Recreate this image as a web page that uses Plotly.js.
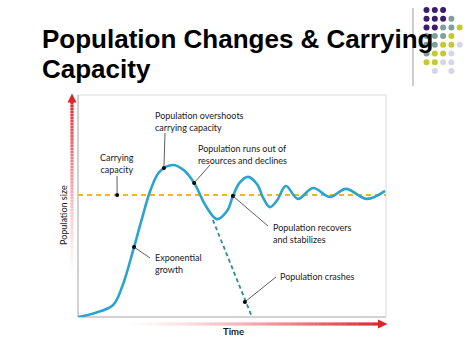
<!DOCTYPE html>
<html><head><meta charset="utf-8">
<script src="https://cdn.plot.ly/plotly-3.0.1.min.js"></script>
<style>html,body{margin:0;padding:0;background:#fff;}#chart{width:474px;height:355px;}</style>
</head><body><div id="chart"></div>
<script>
// ---- Data (time & population in relative units, 0-100) ----
const timePts = [0, 5.5, 11.4, 14.3, 18.2, 20.9, 23.5, 26.5, 30.8, 34.5, 37.7, 41.5, 45.1, 48.5, 50.3, 52.5, 55.2, 58.3, 60.0, 62.3, 64.6, 67.5, 71.4, 76.3, 81.8, 87.0, 93.8, 99.7];
const popPts  = [0, 1.8, 5.4, 13.5, 31.5, 45, 57, 65.5, 68.5, 66, 60.4, 50, 44.1, 48, 54.5, 60.5, 63.1, 59.5, 54, 49.5, 52.5, 59, 53.2, 58.1, 54.1, 57.7, 53.2, 56.8];
const carryingCapacity = 55;
const crashTime = [43.8, 56.5];
const crashPop  = [43.7, 0];
const calloutLabels = ["Carrying<br>capacity", "Population overshoots<br>carrying capacity", "Population runs out of<br>resources and declines", "Population recovers<br>and stabilizes", "Exponential<br>growth", "Population crashes"];
const calloutTime = [12.7, 27.9, 37.7, 50.3, 18.2, 54.2];
const calloutPop  = [55, 67.1, 60.4, 54.5, 31.5, 6.8];
const titleLines = ["Population Changes & Carrying", "Capacity"];
const xLabel = "Time";
const yLabel = "Population size";

// ---- geometry helpers (page pixel -> paper / data) ----
const L = 78, R = 386, T = 95, B = 317;
const pxX = x => (x - L) / (R - L);
const pxY = y => (B - y) / (B - T);
const dX = x => (x - L) / (R - L) * 100;
const dY = y => (B - y) / (B - T) * 100;

const shapes = [];
// frame
shapes.push({type:'rect', xref:'paper', yref:'paper', x0:0, x1:1, y0:0, y1:1, line:{color:'#dcdcdc', width:1}, layer:'below'});
shapes.push({type:'line', xref:'paper', yref:'paper', x0:0, x1:0, y0:0, y1:1, line:{color:'#c8c8c8', width:1.5}, layer:'below'});
shapes.push({type:'line', xref:'paper', yref:'paper', x0:0, x1:1, y0:0, y1:0, line:{color:'#c8c8c8', width:1.5}, layer:'below'});

// gradient arrows
function mix(t){
  const a=[255,255,255], b=[219,36,44];
  const c=a.map((v,i)=>Math.round(v+(b[i]-v)*t));
  return `rgb(${c[0]},${c[1]},${c[2]})`;
}
const N = 60;
// vertical (Population size)
for (let i=0;i<N;i++){
  const y0 = 285 - (285-101)*i/N, y1 = 285 - (285-101)*(i+1)/N;
  const t = Math.pow((i+0.5)/N, 1.5);
  shapes.push({type:'line', xref:'paper', yref:'paper', x0:pxX(72), x1:pxX(72), y0:pxY(y0), y1:pxY(y1+0.3), line:{color:mix(t), width:3.2}});
}
shapes.push({type:'path', xref:'paper', yref:'paper', path:`M${pxX(67.5)},${pxY(102.5)} L${pxX(72)},${pxY(93.5)} L${pxX(76.5)},${pxY(102.5)} Z`, fillcolor:mix(1), line:{width:0}});
// horizontal (Time)
for (let i=0;i<N;i++){
  const x0 = 120 + (379-120)*i/N, x1 = 120 + (379-120)*(i+1)/N;
  const t = Math.pow((i+0.5)/N, 1.4);
  shapes.push({type:'line', xref:'paper', yref:'paper', x0:pxX(x0), x1:pxX(x1+0.3), y0:pxY(324), y1:pxY(324), line:{color:mix(t), width:3.2}});
}
shapes.push({type:'path', xref:'paper', yref:'paper', path:`M${pxX(378)},${pxY(319.5)} L${pxX(387.5)},${pxY(324)} L${pxX(378)},${pxY(328.5)} Z`, fillcolor:mix(1), line:{width:0}});

// decorative dot grid (top right)
shapes.push({type:'line', xref:'paper', yref:'paper', x0:pxX(413), x1:pxX(413), y0:pxY(8), y1:pxY(86), line:{color:'#9a9a9a', width:1}});
const P='#3b1c6b', Tl='#7f9f9c', Y='#c5c92c', Lv='#d6d6ea';
const grid = [
  [P,P,P,null,null],
  [P,P,P,Tl,null],
  [P,P,Tl,Tl,Y],
  [Tl,Tl,Tl,Y,null],
  [Tl,Tl,Y,Y,Lv],
  [Tl,Y,Y,Lv,null],
  [Y,Y,Lv,Lv,null],
  [null,Lv,null,Lv,null]
];
const colX=[426.5,434.8,443.1,451.4,459.7], rowY=[10,18.7,27.4,36.1,44.8,53.5,62.2,70.9];
grid.forEach((row,r)=>row.forEach((c,k)=>{
  if(!c) return;
  const cx=colX[k], cy=rowY[r], rr=3;
  shapes.push({type:'circle', xref:'paper', yref:'paper', x0:pxX(cx-rr), x1:pxX(cx+rr), y0:pxY(cy+rr), y1:pxY(cy-rr), fillcolor:c, line:{width:0}, layer:'below'});
}));

// leader lines (text end in page pixels, point end from data)
const leaderText = [[117,176],[165,133],[210,165],[268,226],[150,258],[276,277]];
leaderText.forEach((p,i)=>{
  shapes.push({type:'line', xref:'x', yref:'y', x0:dX(p[0]), y0:dY(p[1]), x1:calloutTime[i], y1:calloutPop[i], line:{color:'#333', width:0.8}});
});

const textFont = {family:'Lato, "Open Sans", sans-serif', size:9, color:'#1a1a1a'};
const textPos = [ // [x px, y px center, anchor]
  [117,163.5,'center'],[153,121,'left'],[196,154.5,'left'],[271,233,'left'],[153,263,'left'],[278,276,'left']
];
const annotations = calloutLabels.map((s,i)=>({
  xref:'paper', yref:'paper', x:pxX(textPos[i][0]), y:pxY(textPos[i][1]), xanchor:textPos[i][2], yanchor:'middle',
  align:textPos[i][2], text:s, showarrow:false, font:textFont
}));
annotations.push({xref:'paper', yref:'paper', x:pxX(40), y:pxY(39), xanchor:'left', yanchor:'middle', text:'<b>'+titleLines[0]+'</b>', showarrow:false, font:{family:'"Liberation Sans", Arial, sans-serif', size:26, color:'#000'}});
annotations.push({xref:'paper', yref:'paper', x:pxX(40), y:pxY(69), xanchor:'left', yanchor:'middle', text:'<b>'+titleLines[1]+'</b>', showarrow:false, font:{family:'"Liberation Sans", Arial, sans-serif', size:26, color:'#000'}});
annotations.push({xref:'paper', yref:'paper', x:pxX(233), y:pxY(331), xanchor:'center', yanchor:'middle', text:'<b>'+xLabel+'</b>', showarrow:false, font:{family:'Lato, sans-serif', size:9.5, color:'#1a1a1a'}});
annotations.push({xref:'paper', yref:'paper', x:pxX(63), y:pxY(215), xanchor:'center', yanchor:'middle', textangle:-90, text:yLabel, showarrow:false, font:{family:'Lato, sans-serif', size:9, color:'#1a1a1a'}});

const traces = [
  {x:[0,100], y:[carryingCapacity,carryingCapacity], mode:'lines', line:{color:'#f0b429', width:2, dash:'5px,4px'}, hoverinfo:'skip', cliponaxis:false},
  {x:crashTime, y:crashPop, mode:'lines', line:{color:'#2b8e9c', width:1.8, dash:'4px,3px'}, hoverinfo:'skip', cliponaxis:false},
  {x:timePts, y:popPts, mode:'lines', line:{color:'#2ba3d2', width:2.6, shape:'spline', smoothing:1}, hoverinfo:'skip', cliponaxis:false},
  {x:calloutTime, y:calloutPop, mode:'markers', marker:{color:'#000', size:4}, hoverinfo:'skip', cliponaxis:false}
];

const layout = {
  width:474, height:355, margin:{l:L, r:474-R, t:T, b:355-B},
  paper_bgcolor:'#fff', plot_bgcolor:'rgba(0,0,0,0)', showlegend:false,
  xaxis:{range:[0,100], showgrid:false, zeroline:false, showticklabels:false, showline:false, ticks:'', fixedrange:true},
  yaxis:{range:[0,100], showgrid:false, zeroline:false, showticklabels:false, showline:false, ticks:'', fixedrange:true},
  shapes:shapes, annotations:annotations
};
Plotly.newPlot('chart', traces, layout, {displayModeBar:false, staticPlot:true});
</script>
</body></html>
